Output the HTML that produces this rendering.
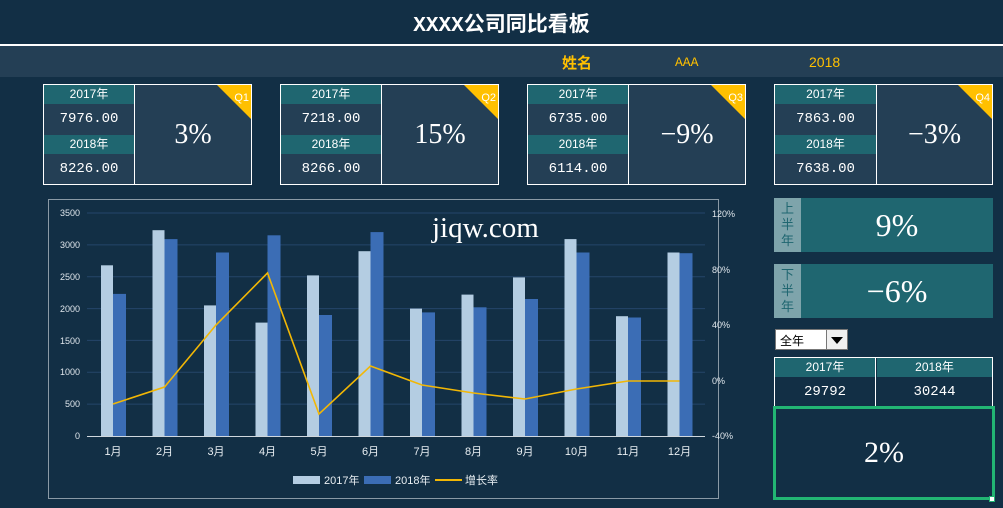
<!DOCTYPE html>
<html><head><meta charset="utf-8"><style>
*{margin:0;padding:0;box-sizing:border-box}
body{width:1003px;height:508px;background:#122f45;position:relative;overflow:hidden;font-family:"Liberation Sans","Noto Sans CJK SC",sans-serif;color:#fff}
.a{position:absolute}
.title{left:0;top:8px;width:1003px;text-align:center;font-size:21px;font-weight:bold;font-family:"Liberation Mono","Noto Sans CJK SC",monospace}
.card{position:absolute;top:84px;height:101px;border:1px solid #fff;background:#243f55}
.card .l{position:absolute;left:0;top:0;bottom:0;border-right:1px solid #fff}
.hd{height:19px;background:#1f6670;text-align:center;font-size:12px;line-height:19px}
.vl{height:31px;text-align:center;font-size:14px;line-height:31px;font-family:"Liberation Mono",monospace}
.pct{position:absolute;top:0;bottom:0;right:0;text-align:center;line-height:100px;font-size:28px;font-family:"Liberation Serif",serif}
.tri{position:absolute;right:0;top:0;width:0;height:0;border-left:34px solid transparent;border-top:34px solid #ffc000}
.q{position:absolute;right:2px;top:7px;font-size:11px;color:#fff}
.half{position:absolute;left:774px;width:219px;height:54px;background:#1f6670}
.half .lb{position:absolute;left:0;top:0;width:27px;height:54px;background:#7ea4ab;color:#1f6670;font-size:13px;text-align:center;line-height:16px;padding-top:3px}
.half .v{position:absolute;left:27px;right:0;top:0;bottom:0;text-align:center;line-height:54px;font-size:32px;font-family:"Liberation Serif",serif}
</style></head><body>
<div class="a title">XXXX公司同比看板</div>
<div class="a" style="left:0;top:44px;width:1003px;height:2px;background:#fff"></div>
<div class="a" style="left:0;top:46px;width:1003px;height:31px;background:#243f55"></div>
<div class="a" style="left:562px;top:52px;font-size:15px;font-weight:bold;color:#ffc000">姓名</div>
<div class="a" style="left:675px;top:55px;font-size:13px;color:#ffc000;font-family:'Liberation Mono',monospace">AAA</div>
<div class="a" style="left:809px;top:54px;font-size:14px;color:#ffc000">2018</div>

<div class="card" style="left:43px;width:209px"><div class="l" style="width:91px"><div class="hd">2017年</div><div class="vl">7976.00</div><div class="hd">2018年</div><div class="vl">8226.00</div></div><div class="pct" style="left:91px">3%</div><div class="tri"></div><div class="q">Q1</div></div>
<div class="card" style="left:280px;width:219px"><div class="l" style="width:101px"><div class="hd">2017年</div><div class="vl">7218.00</div><div class="hd">2018年</div><div class="vl">8266.00</div></div><div class="pct" style="left:101px">15%</div><div class="tri"></div><div class="q">Q2</div></div>
<div class="card" style="left:527px;width:219px"><div class="l" style="width:101px"><div class="hd">2017年</div><div class="vl">6735.00</div><div class="hd">2018年</div><div class="vl">6114.00</div></div><div class="pct" style="left:101px">−9%</div><div class="tri"></div><div class="q">Q3</div></div>
<div class="card" style="left:774px;width:219px"><div class="l" style="width:102px"><div class="hd">2017年</div><div class="vl">7863.00</div><div class="hd">2018年</div><div class="vl">7638.00</div></div><div class="pct" style="left:102px">−3%</div><div class="tri"></div><div class="q">Q4</div></div>

<svg class="a" style="left:0;top:0" width="1003" height="508">
<rect x="48.5" y="199.5" width="670" height="299" fill="none" stroke="#8a9aa6" stroke-width="1"/>
<g stroke="#24466a" stroke-width="1">
<line x1="87" x2="705" y1="404.1" y2="404.1"/><line x1="87" x2="705" y1="372.3" y2="372.3"/><line x1="87" x2="705" y1="340.4" y2="340.4"/><line x1="87" x2="705" y1="308.6" y2="308.6"/><line x1="87" x2="705" y1="276.7" y2="276.7"/><line x1="87" x2="705" y1="244.9" y2="244.9"/><line x1="87" x2="705" y1="213" y2="213"/></g>
<g fill="#b4cde2">
<rect x="101" y="265.3" width="12" height="170.7"/><rect x="152.5" y="230.2" width="12" height="205.8"/><rect x="204" y="305.4" width="12" height="130.6"/><rect x="255.5" y="322.6" width="12" height="113.4"/><rect x="307" y="275.4" width="12" height="160.6"/><rect x="358.5" y="251.2" width="12" height="184.8"/><rect x="410" y="308.6" width="12" height="127.4"/><rect x="461.5" y="294.6" width="12" height="141.4"/><rect x="513" y="277.4" width="12" height="158.6"/><rect x="564.5" y="239.1" width="12" height="196.9"/><rect x="616" y="316.2" width="12" height="119.8"/><rect x="667.5" y="252.5" width="12" height="183.5"/></g>
<g fill="#3b6db5">
<rect x="113" y="293.9" width="13" height="142.1"/><rect x="164.5" y="239.1" width="13" height="196.9"/><rect x="216" y="252.5" width="13" height="183.5"/><rect x="267.5" y="235.3" width="13" height="200.7"/><rect x="319" y="315" width="13" height="121"/><rect x="370.5" y="232.1" width="13" height="203.9"/><rect x="422" y="312.4" width="13" height="123.6"/><rect x="473.5" y="307.3" width="13" height="128.7"/><rect x="525" y="299" width="13" height="137"/><rect x="576.5" y="252.5" width="13" height="183.5"/><rect x="628" y="317.5" width="13" height="118.5"/><rect x="679.5" y="253.2" width="13" height="182.8"/></g>
<line x1="87" x2="705" y1="436.5" y2="436.5" stroke="#d0d8de"/>
<polyline fill="none" stroke="#f2b705" stroke-width="1.6" points="113,404 164.5,387 216,325 267.5,273 319,414 370.5,366 422,385 473.5,393 525,399 576.5,389 628,381 679.5,381"/>
<g fill="#dfe6ec" font-size="9" font-family="Liberation Sans,sans-serif" text-anchor="end">
<text x="80" y="439">0</text><text x="80" y="407">500</text><text x="80" y="375">1000</text><text x="80" y="344">1500</text><text x="80" y="312">2000</text><text x="80" y="280">2500</text><text x="80" y="248">3000</text><text x="80" y="216">3500</text></g>
<g fill="#dfe6ec" font-size="9" font-family="Liberation Sans,sans-serif">
<text x="712" y="439">-40%</text><text x="712" y="384">0%</text><text x="712" y="328">40%</text><text x="712" y="273">80%</text><text x="712" y="217">120%</text></g>
<g fill="#e8eef2" font-size="11" font-family="Liberation Sans,Noto Sans CJK SC,sans-serif" text-anchor="middle">
<text x="113" y="455">1月</text><text x="164.5" y="455">2月</text><text x="216" y="455">3月</text><text x="267.5" y="455">4月</text><text x="319" y="455">5月</text><text x="370.5" y="455">6月</text><text x="422" y="455">7月</text><text x="473.5" y="455">8月</text><text x="525" y="455">9月</text><text x="576.5" y="455">10月</text><text x="628" y="455">11月</text><text x="679.5" y="455">12月</text></g>
<rect x="293" y="476" width="27" height="8" fill="#b4cde2"/><rect x="364" y="476" width="27" height="8" fill="#3b6db5"/>
<line x1="435" x2="462" y1="480" y2="480" stroke="#f2b705" stroke-width="2"/>
<g fill="#e8eef2" font-size="11" font-family="Liberation Sans,Noto Sans CJK SC,sans-serif">
<text x="324" y="484">2017年</text><text x="395" y="484">2018年</text><text x="465" y="484">增长率</text></g>
<text x="432" y="237" fill="#fff" font-size="29" font-family="Liberation Serif,serif">jiqw.com</text>
</svg>

<div class="half" style="top:198px"><div class="lb">上<br>半<br>年</div><div class="v">9%</div></div>
<div class="half" style="top:264px"><div class="lb">下<br>半<br>年</div><div class="v">−6%</div></div>
<div class="a" style="left:775px;top:329px;width:73px;height:21px;background:#fff;border:1px solid #777"><span style="position:absolute;left:4px;top:2px;font-size:12px;color:#000">全年</span><div style="position:absolute;right:0;top:0;width:21px;height:19px;background:#f0f0f0;border-left:1px solid #777"><div style="position:absolute;left:4px;top:7px;border-left:6px solid transparent;border-right:6px solid transparent;border-top:7px solid #000"></div></div></div>
<div class="a" style="left:774px;top:357px;width:219px;height:50px;border:1px solid #fff;border-bottom:none">
<div style="position:absolute;left:0;top:0;width:101px;height:50px;border-right:1px solid #fff"><div class="hd">2017年</div><div class="vl" style="line-height:30px">29792</div></div>
<div style="position:absolute;left:102px;top:0;right:0;height:50px"><div class="hd">2018年</div><div class="vl" style="line-height:30px">30244</div></div></div>
<div class="a" style="left:773px;top:406px;width:222px;height:94px;border:3px solid #22b573;text-align:center;line-height:88px;font-size:30px;font-family:'Liberation Serif',serif">2%</div>
<div class="a" style="left:989px;top:496px;width:6px;height:6px;background:#fff;border:1px solid #22b573"></div>
</body></html>
